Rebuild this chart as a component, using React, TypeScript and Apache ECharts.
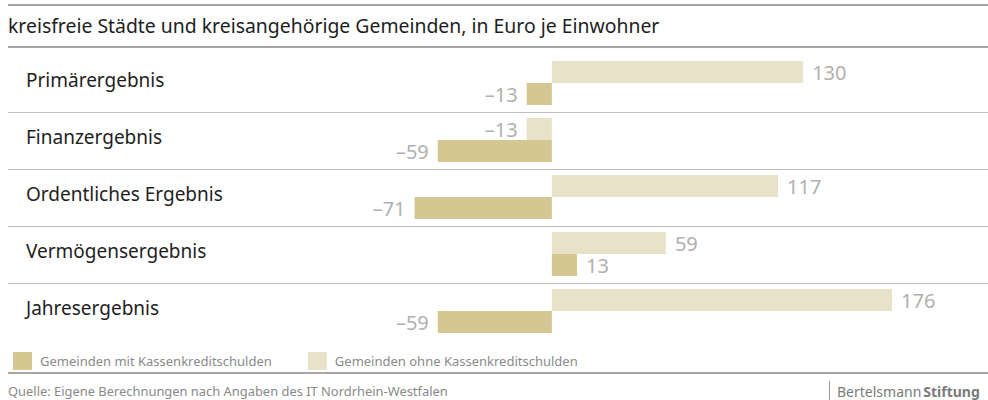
import React, { useEffect, useRef } from "react";
import * as echarts from "echarts";

const categories = [
  "Primärergebnis",
  "Finanzergebnis",
  "Ordentliches Ergebnis",
  "Vermögensergebnis",
  "Jahresergebnis",
];
const seriesNames = ["Gemeinden mit Kassenkreditschulden", "Gemeinden ohne Kassenkreditschulden"];
const mitValues = [-13, -59, -71, 13, -59];
const ohneValues = [130, -13, 117, 59, 176];

const titleText = "kreisfreie Städte und kreisangehörige Gemeinden, in Euro je Einwohner";
const sourceText = "Quelle: Eigene Berechnungen nach Angaben des IT Nordrhein-Westfalen";

const FONT = "'Noto Sans', 'Open Sans', sans-serif";
const DARK = "#d4c791";
const LIGHT = "#e8e2c8";
const LABEL_GRAY = "#b0b0b0";

const GRID_TOP = 54.5;
const GRID_H = 285;
const GRID_LEFT = 358.5;
const GRID_RIGHT = 49.5;

export default function App() {
  const ref = useRef<HTMLDivElement>(null);
  useEffect(() => {
    if (!ref.current) return;
    const chart = echarts.init(ref.current, undefined, { renderer: "svg" });
    const rowH = GRID_H / categories.length;
    const sepLines = categories.slice(1).map((_, i) => ({
      type: "line",
      shape: { x1: 8, y1: Math.round(GRID_TOP + rowH * (i + 1)) + 0.5, x2: 988, y2: Math.round(GRID_TOP + rowH * (i + 1)) + 0.5 },
      style: { stroke: "#bdbdbd", lineWidth: 1 },
      silent: true,
    }));
    const mkLabel = (v: number) => ({
      value: v,
      label: { position: v < 0 ? "left" : "right" },
    });
    const labelCfg = {
      show: true,
      fontSize: 20,
      color: LABEL_GRAY,
      distance: 9,
      fontFamily: FONT,
      formatter: (p: any) => (p.value < 0 ? "–" + Math.abs(p.value) : String(p.value)),
    };
    chart.setOption({
      animation: false,
      textStyle: { fontFamily: FONT },
      grid: { left: GRID_LEFT, right: GRID_RIGHT, top: GRID_TOP, height: GRID_H, containLabel: false },
      xAxis: {
        type: "value",
        min: -100,
        max: 200,
        show: false,
      },
      yAxis: {
        type: "category",
        data: categories,
        inverse: true,
        axisLine: { show: false },
        axisTick: { show: false },
        splitLine: { show: false },
        axisLabel: {
          align: "left",
          margin: GRID_LEFT - 26,
          fontSize: 19,
          color: "#1e1e1e",
          fontFamily: FONT,
          verticalAlign: "bottom",
          lineHeight: 26,
          padding: [0, 0, -10, 0],
        },
      },
      legend: {
        left: 8,
        top: 347,
        itemWidth: 19,
        itemHeight: 18,
        itemGap: 36,
        icon: "rect",
        data: seriesNames,
        textStyle: { fontSize: 13, color: "#8a8a8a", fontFamily: FONT, padding: [0, 0, 0, 3] },
      },
      series: [
        {
          name: seriesNames[1],
          type: "bar",
          data: ohneValues.map(mkLabel),
          barWidth: 22,
          barGap: "0%",
          itemStyle: { color: LIGHT },
          label: labelCfg,
        },
        {
          name: seriesNames[0],
          type: "bar",
          data: mitValues.map(mkLabel),
          barWidth: 22,
          barGap: "0%",
          itemStyle: { color: DARK },
          label: labelCfg,
        },
      ],
      graphic: [
        { type: "rect", shape: { x: 8, y: 4, width: 980, height: 2 }, style: { fill: "#a6a6a6" }, silent: true },
        { type: "rect", shape: { x: 8, y: 46, width: 980, height: 2 }, style: { fill: "#a6a6a6" }, silent: true },
        {
          type: "text",
          x: 8,
          y: 25,
          style: { text: titleText, font: `19.4px ${FONT}`, fill: "#1e1e1e", verticalAlign: "middle" },
          silent: true,
        },
        ...sepLines,
        { type: "rect", shape: { x: 8, y: 372, width: 980, height: 2 }, style: { fill: "#a6a6a6" }, silent: true },
        {
          type: "text",
          x: 8,
          y: 391,
          style: { text: sourceText, font: `12.9px ${FONT}`, fill: "#8a8a8a", verticalAlign: "middle" },
          silent: true,
        },
        { type: "line", shape: { x1: 829.5, y1: 381, x2: 829.5, y2: 400 }, style: { stroke: "#9a9a9a", lineWidth: 1 }, silent: true },
        {
          type: "text",
          x: 837,
          y: 391,
          style: {
            text: "{a|Bertelsmann}{b|Stiftung}",
            verticalAlign: "middle",
            rich: {
              a: { font: `14px ${FONT}`, fill: "#7a7a7a", padding: [0, 2, 0, 0] },
              b: { font: `bold 14px ${FONT}`, fill: "#7a7a7a" },
            },
          },
          silent: true,
        },
      ],
    });
    return () => chart.dispose();
  }, []);
  return <div ref={ref} style={{ width: 988, height: 400, position: "absolute", left: 0, top: 0 }} />;
}
